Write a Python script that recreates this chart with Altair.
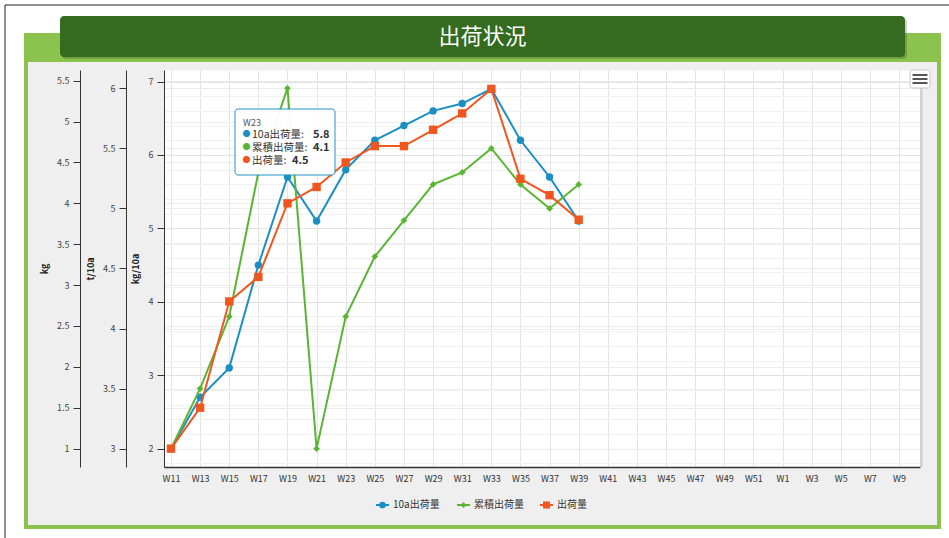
import altair as alt
import pandas as pd

# ---- data -------------------------------------------------------------
weeks = ["W11", "W13", "W15", "W17", "W19", "W21", "W23", "W25", "W27", "W29",
         "W31", "W33", "W35", "W37", "W39", "W41", "W43", "W45", "W47", "W49",
         "W51", "W1", "W3", "W5", "W7", "W9"]
series_names = ["10a出荷量", "累積出荷量", "出荷量"]
per_10a = [2.0, 2.7, 3.1, 4.5, 5.7, 5.1, 5.8, 6.2, 6.4, 6.6, 6.7, 6.9, 6.2, 5.7, 5.1]      # kg/10a
cumulative = [3.0, 3.5, 4.1, 5.3, 6.0, 3.0, 4.1, 4.6, 4.9, 5.2, 5.3, 5.5, 5.2, 5.0, 5.2]   # t/10a
shipped = [1.0, 1.5, 2.8, 3.1, 4.0, 4.2, 4.5, 4.7, 4.7, 4.9, 5.1, 5.4, 4.3, 4.1, 3.8]      # kg

ticks_kg10a = [round(1.8 + 0.2 * i, 1) for i in range(27)]   # minor steps, labels on integers
ticks_t10a = [3, 3.5, 4, 4.5, 5, 5.5, 6]
ticks_kg = [1, 1.5, 2, 2.5, 3, 3.5, 4, 4.5, 5, 5.5]
focus_week = "W23"

# ---- style ------------------------------------------------------------
FONT = "Noto Sans CJK JP"
BLUE, GREEN, ORANGE = "#1b8fc4", "#5ab532", "#f1561f"
DARK_GREEN, LIGHT_GREEN = "#346b1f", "#8cc24e"
W, H = 756, 397


def frame(vals):
    return pd.DataFrame({"idx": list(range(len(vals))), "week": weeks[:len(vals)], "value": vals})


one = pd.DataFrame({"k": [0]})

label_expr = "[" + ",".join(f"'{w}'" for w in weeks) + "][datum.value]"
x_enc = alt.X(
    "idx:Q",
    scale=alt.Scale(domain=[-0.24, 25.72], nice=False, zero=False),
    axis=alt.Axis(values=list(range(len(weeks))), labelExpr=label_expr, title=None,
                  grid=True, gridColor="#e4e4e4", ticks=False, domainColor="#333333",
                  domainWidth=1.5, labelFontSize=9, labelColor="#333333", labelPadding=7,
                  labelFont=FONT, labelOverlap=False, labelFlush=False),
)

common_axis = dict(orient="left", format=".1~f", tickSize=7, tickColor="#333333",
                   domainColor="#333333", labelFontSize=9, labelColor="#444444",
                   labelPadding=4, labelFont=FONT, labelOverlap=False, titleFont=FONT,
                   titleFontSize=9, titleFontWeight="bold", titleColor="#222222",
                   titleAngle=-90, titleAlign="center", titleBaseline="middle", titleY=H / 2)

is_major = "datum.value % 1 === 0"
y_blue = alt.Y("value:Q", scale=alt.Scale(domain=[1.75, 7.157], nice=False, zero=False),
               axis=alt.Axis(offset=0, values=ticks_kg10a, title="kg/10a", titleX=-29,
                             labelExpr=f"{is_major} ? datum.label : ''",
                             tickOpacity={"condition": {"test": is_major, "value": 1}, "value": 0},
                             gridColor={"condition": {"test": is_major, "value": "#e2e2e2"},
                                        "value": "#f1f1f1"},
                             grid=True, **common_axis))
y_green = alt.Y("value:Q", scale=alt.Scale(domain=[2.847, 6.153], nice=False, zero=False),
                axis=alt.Axis(offset=38, values=ticks_t10a, title="t/10a", titleX=-36,
                              grid=True, gridColor="#ececec", **common_axis))
y_orange = alt.Y("value:Q", scale=alt.Scale(domain=[0.775, 5.631], nice=False, zero=False),
                 axis=alt.Axis(offset=84, values=ticks_kg, title="kg", titleX=-36,
                               grid=True, gridColor="#ececec", **common_axis))


def series(vals, color, shape, size, y):
    return alt.Chart(frame(vals)).mark_line(
        color=color, strokeWidth=2,
        point=alt.OverlayMarkDef(shape=shape, size=size, filled=True, color=color, opacity=1),
    ).encode(x=x_enc, y=y)


blue = series(per_10a, BLUE, "circle", 55, y_blue)
green = series(cumulative, GREEN, "diamond", 45, y_green)
orange = series(shipped, ORANGE, "square", 70, y_orange)


def box(x, x2, y, y2, color, **kw):
    return alt.Chart(one).mark_rect(color=color, **kw).encode(
        x=alt.value(x), x2=alt.value(x2), y=alt.value(y), y2=alt.value(y2))


# page frame: white margin, thin dark edge, green card with header band
decor = [
    box(-164, 785, -70, -37, "white"),
    box(-164, -140, -70, 468, "white"),
    box(777, 785, -70, 468, "white"),
    box(-164, 785, 459, 468, "white"),
    box(-159, 785, -65.5, -64.5, "#222222"),
    box(-159.5, -158.5, -65, 468, "#222222"),
    box(-140, 777, -37, -8, LIGHT_GREEN, cornerRadiusTopLeft=4, cornerRadiusTopRight=4),
    box(-140, -136, -37, 459, LIGHT_GREEN),
    box(773, 777, -37, 459, LIGHT_GREEN),
    box(-140, 777, 455, 459, LIGHT_GREEN),
    box(-102, 743, -52, -11, "#000000", opacity=0.18, cornerRadius=4),
    box(-104, 741, -54, -13, DARK_GREEN, cornerRadius=4),
    alt.Chart(one).mark_text(text="出荷状況", font=FONT, fontSize=22, color="white",
                             align="center", baseline="middle").encode(
        x=alt.value(318.5), y=alt.value(-33)),
    box(756, 758.5, 0, H, "#d2d2d2"),
]

# export menu button
menu = [
    box(746, 766, 0, 18, "white", stroke="#c8c8c8", strokeWidth=1, cornerRadius=2),
] + [
    alt.Chart(one).mark_rule(color="#555555", strokeWidth=2).encode(
        x=alt.value(748.5), x2=alt.value(763.5), y=alt.value(yy))
    for yy in (5, 9, 13)
]

# hover box for the focused week
fi = weeks.index(focus_week)
focus_vals = [per_10a[fi], cumulative[fi], shipped[fi]]
colors = [BLUE, GREEN, ORANGE]
shapes = ["circle", "diamond", "square"]
tip = [
    box(71, 171, 39, 105, "white", opacity=0.95, stroke=BLUE, strokeWidth=1, cornerRadius=3),
    alt.Chart(one).mark_text(text=focus_week, font=FONT, fontSize=9, color="#555555",
                             align="left", baseline="middle").encode(
        x=alt.value(79), y=alt.value(53)),
]
value_x = [149, 149, 128]
for i, (name, v, c) in enumerate(zip(series_names, focus_vals, colors)):
    yy = 65 + 13 * i
    tip += [
        alt.Chart(one).mark_text(text="●", font=FONT, fontSize=8, color=c,
                                 align="center", baseline="middle").encode(
            x=alt.value(82.5), y=alt.value(yy)),
        alt.Chart(one).mark_text(text=f"{name}:", font=FONT, fontSize=10.5, color="#333333",
                                 align="left", baseline="middle").encode(
            x=alt.value(88), y=alt.value(yy)),
        alt.Chart(one).mark_text(text=f"{v:.1f}", font=FONT, fontSize=11, color="#333333",
                                 fontWeight="bold", align="left", baseline="middle").encode(
            x=alt.value(value_x[i]), y=alt.value(yy)),
    ]

# legend row under the axis
legend = []
legend_x = [212, 293, 376]
legend_sizes = [45, 35, 50]
for name, c, s, lx, sz in zip(series_names, colors, shapes, legend_x, legend_sizes):
    legend += [
        alt.Chart(one).mark_rule(color=c, strokeWidth=2).encode(
            x=alt.value(lx), x2=alt.value(lx + 13), y=alt.value(435)),
        alt.Chart(one).mark_point(shape=s, filled=True, color=c, size=sz, opacity=1).encode(
            x=alt.value(lx + 6.5), y=alt.value(435)),
        alt.Chart(one).mark_text(text=name, font=FONT, fontSize=10, color="#333333",
                                 align="left", baseline="middle").encode(
            x=alt.value(lx + 17), y=alt.value(435)),
    ]

chart = alt.layer(*decor, blue, green, orange, *menu, *tip, *legend).resolve_scale(
    y="independent"
).properties(
    width=W, height=H,
    autosize=alt.AutoSizeParams(type="none"),
    padding={"left": 164, "top": 70, "right": 29, "bottom": 71},
    background="#efefef",
).configure_view(fill="white", strokeOpacity=0)

chart.save("out.html", embed_options={"renderer": "svg", "actions": False})
